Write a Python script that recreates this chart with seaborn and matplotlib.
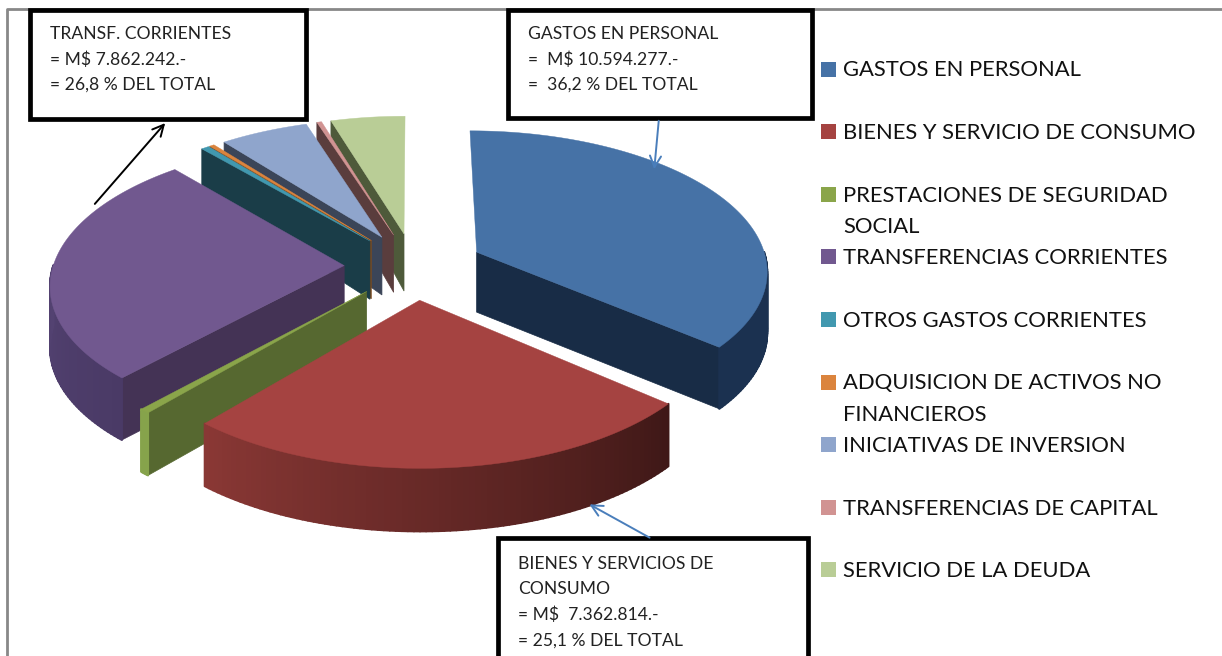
import numpy as np
import pandas as pd
import seaborn as sns
import matplotlib.pyplot as plt
from matplotlib.patches import Rectangle

# valores
categorias = ['GASTOS EN PERSONAL', 'BIENES Y SERVICIO DE CONSUMO',
              'PRESTACIONES DE SEGURIDAD\nSOCIAL', 'TRANSFERENCIAS CORRIENTES',
              'OTROS GASTOS CORRIENTES', 'ADQUISICION DE ACTIVOS NO\nFINANCIEROS',
              'INICIATIVAS DE INVERSION', 'TRANSFERENCIAS DE CAPITAL',
              'SERVICIO DE LA DEUDA']
porcentajes = [36.2, 25.1, 0.5, 26.8, 0.5, 0.3, 5.6, 0.3, 4.7]
colores = ['#4672a6', '#a54341', '#8aa54a', '#71588f', '#4198af',
           '#db843d', '#8fa5cc', '#d19392', '#b9cd96']
caras = ['#182c46', '#401a18', '#566830', '#443355', '#1a3d48',
         '#7a4a20', '#3b4558', '#5a3d3d', '#4e5a3a']
borde_ini = ['#1b3150', '#8a3835', '#86a34b', '#5c4a7d', '#1a3d48',
             '#7a4a20', '#3b4558', '#5a3d3d', '#4e5a3a']
borde_fin = ['#1b3150', '#3f1817', '#86a34b', '#4a3a66', '#1a3d48',
             '#7a4a20', '#3b4558', '#5a3d3d', '#4e5a3a']

notas = {
    (50, 34): ['TRANSF. CORRIENTES', '= M$ 7.862.242.-', '= 26,8 % DEL TOTAL'],
    (528, 34): ['GASTOS EN PERSONAL', '=  M$ 10.594.277.-', '=  36,2 % DEL TOTAL'],
    (518, 564): ['BIENES Y SERVICIOS DE', 'CONSUMO', '= M$  7.362.814.-', '= 25,1 % DEL TOTAL'],
}

CX, CY = 414, 266
A, B, K = 291, 139, 0.12
EXPL = 0.24
df = pd.DataFrame({'cat': categorias, 'pct': porcentajes})
df['fin'] = df['pct'].cumsum() / df['pct'].sum() * 360
df['ini'] = df['fin'] - df['pct'] / df['pct'].sum() * 360


def proyectar(x, y):
    den = 1 - K * y
    return CX + A * x / den, CY + B * y / den


def prof(y):
    return np.interp(y, [-1.15, -0.1, 1.15], [38, 60, 63])


def punto(ang, r, ox, oy):
    a = np.radians(ang)
    return r * np.sin(a) + ox, -r * np.cos(a) + oy


def cara_radial(ax, ang, ox, oy, color, z):
    xs = np.array([ox, punto(ang, 1, ox, oy)[0]])
    ys = np.array([oy, punto(ang, 1, ox, oy)[1]])
    px, py = proyectar(xs, ys)
    d = prof(ys)
    ax.fill([px[0], px[1], px[1], px[0]], [py[0], py[1], py[1] + d[1], py[0] + d[0]],
            color=color, lw=0.5, zorder=z)


sns.set_theme(style='white')
plt.rcParams['font.family'] = ['Lato', 'DejaVu Sans']
fig, ax = plt.subplots(figsize=(12.22, 6.56), dpi=100)
ax.set_position([0, 0, 1, 1])
ax.set_xlim(0, 1222)
ax.set_ylim(656, 0)
ax.axis('off')

# marco
ax.plot([7, 7, 1222], [656, 9, 9], color='#888888', lw=2, zorder=1)

# de atras hacia adelante
orden = [8, 7, 6, 5, 4, 3, 2, 0, 1]
for z, i in enumerate(orden):
    base = 2 + z
    ini, fin = df.loc[i, 'ini'], df.loc[i, 'fin']
    medio = np.radians((ini + fin) / 2)
    ox, oy = EXPL * np.sin(medio), -EXPL * np.cos(medio)
    if np.sin(np.radians(ini)) < 0:
        cara_radial(ax, ini, ox, oy, caras[i], base)
    if np.sin(np.radians(fin)) > 1e-6:
        cara_radial(ax, fin, ox, oy, caras[i], base)

    angs = np.linspace(ini, fin, max(int(fin - ini), 6))
    gx, gy = punto(angs, 1, ox, oy)
    px, py = proyectar(gx, gy)
    d = prof(gy)
    pal = sns.blend_palette([borde_fin[i], borde_ini[i]], len(angs))
    for j in range(len(angs) - 1):
        if np.cos(np.radians(angs[j] + angs[j + 1]) / 2) < 0:
            ax.fill([px[j], px[j + 1], px[j + 1], px[j]],
                    [py[j], py[j + 1], py[j + 1] + d[j + 1], py[j] + d[j]],
                    fc=pal[j], ec=pal[j], lw=1.5, joinstyle='round', zorder=base)

    cx0, cy0 = proyectar(ox, oy)
    ax.fill(np.r_[cx0, px], np.r_[cy0, py], color=colores[i], lw=0.3, zorder=base + 0.5)

# leyenda
paso = 31.3
filas = 0
for c, color in zip(categorias, colores):
    y = 69 + paso * filas
    ax.add_patch(Rectangle((821, y - 7.5), 15, 15, color=color, lw=0, zorder=30))
    for k, linea in enumerate(c.split('\n')):
        ax.text(843, y + 1.5 + k * paso, linea, fontsize=15.8, va='center', color='#111111', zorder=30)
    filas += 2

# cajas
for x0, y0, x1, y1 in [(30, 10, 306, 119), (508, 10, 812, 118), (498, 538, 808, 670)]:
    ax.add_patch(Rectangle((x0, y0), x1 - x0, y1 - y0, fc='white', ec='black', lw=3.4, zorder=20))
for (x, y), lineas in notas.items():
    sep = 25.5
    for k, linea in enumerate(lineas):
        ax.text(x, y + k * sep, linea, fontsize=12.6, va='center', color='#222222', zorder=31)

# flechas
ax.annotate('', xy=(167, 121), xytext=(93, 206), zorder=25,
            arrowprops=dict(arrowstyle='->', color='black', lw=1.4, mutation_scale=20))
ax.annotate('', xy=(654, 172), xytext=(659, 118), zorder=25,
            arrowprops=dict(arrowstyle='->', color='#4a7ebb', lw=1.4, mutation_scale=20))
ax.annotate('', xy=(587, 503), xytext=(652, 539), zorder=25,
            arrowprops=dict(arrowstyle='->', color='#4a7ebb', lw=1.4, mutation_scale=20))

fig.savefig('out.png', dpi=100, facecolor='white')
